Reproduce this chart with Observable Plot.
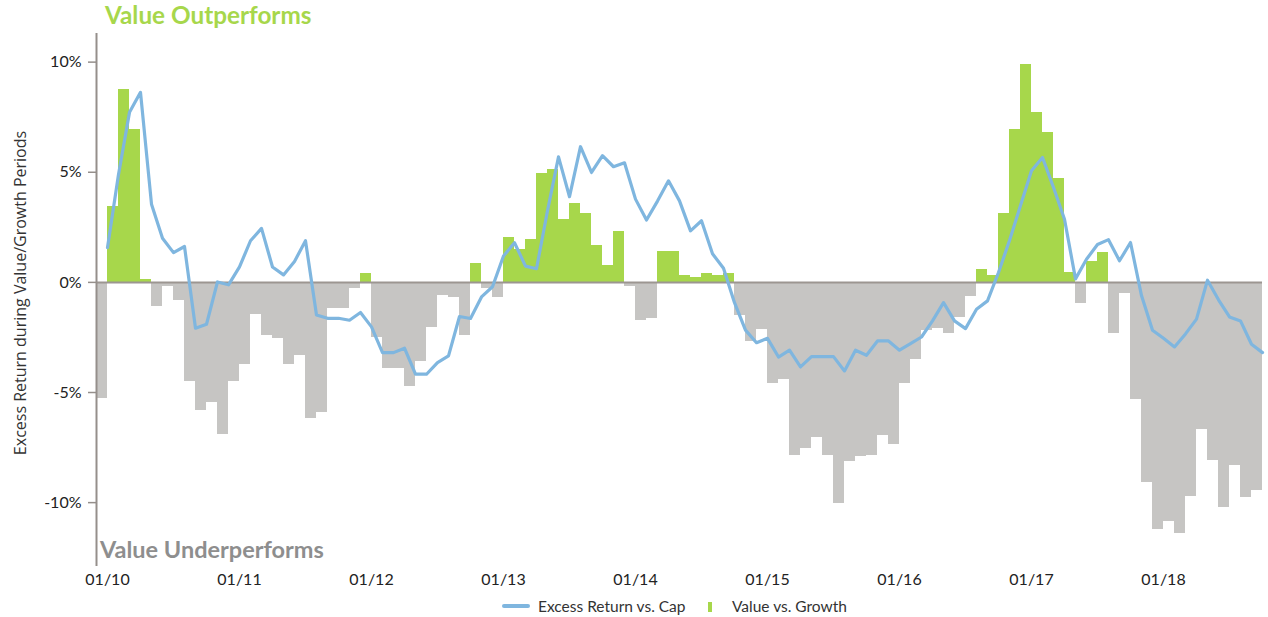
<!DOCTYPE html>
<html>
<head>
<meta charset="utf-8">
<script src="https://cdn.jsdelivr.net/npm/d3@7"></script>
<script src="https://cdn.jsdelivr.net/npm/@observablehq/plot@0.6"></script>
<style>
  html, body { margin: 0; padding: 0; background: #fff; }
  #wrap { position: relative; width: 1268px; height: 617px; font-family: Lato, "Open Sans", sans-serif; overflow: hidden; }
  #wrap svg { position: absolute; left: 0; top: 0; }
  .note { position: absolute; font-weight: 700; font-size: 23.5px; line-height: 24px; white-space: nowrap; }
  #ylab { position: absolute; left: 20px; top: 293px; transform: translate(-50%, -50%) rotate(-90deg); font-family: "Open Sans", sans-serif; font-size: 16px; color: #333; white-space: nowrap; }
  .lg { position: absolute; white-space: nowrap; font-size: 15.5px; line-height: 16px; color: #333; }
</style>
</head>
<body>
<div id="wrap">
  <div class="note" style="left:105px; top:3px; color:#a7d74b; font-size:24.3px;">Value Outperforms</div>
  <div class="note" style="left:100px; top:537px; color:#8e8e8e;">Value Underperforms</div>
  <div id="ylab">Excess Return during Value/Growth Periods</div>
  <div style="position:absolute; left:502px; top:604px; width:28px; height:4px; background:#7fb6df; border-radius:2px;"></div>
  <div class="lg" style="left:538px; top:598px;">Excess Return vs. Cap</div>
  <div style="position:absolute; left:708px; top:602px; width:4px; height:10px; background:#a7d74b;"></div>
  <div class="lg" style="left:732px; top:598px;">Value vs. Growth</div>
</div>
<script>
// Monthly periods, Dec 2009 (index 0) through Sep 2018 (index 105)
const seriesNames = ["Excess Return vs. Cap", "Value vs. Growth"];

// Value vs. Growth monthly return (%)
const valueVsGrowth = [
  -5.28, 3.43, 8.78, 6.96, 0.15, -1.1, -0.2, -0.81, -4.48, -5.81,
  -5.46, -6.9, -4.48, -3.72, -1.48, -2.39, -2.55, -3.72, -3.3, -6.19,
  -5.92, -1.2, -1.2, -0.3, 0.41, -2.5, -3.9, -3.9, -4.75, -3.6,
  -2.05, -0.6, -0.68, -2.4, 0.87, -0.3, -0.67, 2.05, 1.5, 1.95,
  4.95, 5.14, 2.86, 3.6, 3.14, 1.68, 0.77, 2.32, -0.2, -1.75,
  -1.65, 1.4, 1.4, 0.3, 0.23, 0.4, 0.33, 0.4, -1.5, -2.7,
  -2.15, -4.6, -4.4, -7.85, -7.55, -7.05, -7.85, -10.05, -8.15, -7.9,
  -7.85, -6.95, -7.38, -4.6, -3.5, -2.2, -2.1, -2.3, -1.6, -0.65,
  0.6, 0.33, 3.15, 6.95, 9.9, 7.7, 6.8, 4.7, 0.43, -0.95,
  0.97, 1.34, -2.3, -0.5, -5.3, -9.1, -11.2, -10.85, -11.4, -9.7,
  -6.7, -8.1, -10.2, -8.3, -9.75, -9.45
];

// Excess Return vs. Cap (%), measured at each month end
const excessReturn = [
  1.58, 4.9, 7.72, 8.63, 3.55, 2.0, 1.35, 1.63, -2.08, -1.9,
  0.02, -0.11, 0.7, 1.89, 2.45, 0.7, 0.34, 0.95, 1.89, -1.48,
  -1.63, -1.63, -1.72, -1.37, -2.02, -3.19, -3.19, -2.99, -4.17, -4.17,
  -3.64, -3.34, -1.55, -1.64, -0.66, -0.2, 1.2, 1.8, 0.74, 0.62,
  3.25, 5.7, 3.89, 6.16, 4.99, 5.75, 5.25, 5.43, 3.78, 2.83,
  3.69, 4.61, 3.7, 2.34, 2.8, 1.3, 0.64, -0.92, -2.17, -2.74,
  -2.54, -3.39, -3.08, -3.84, -3.37, -3.37, -3.37, -4.02, -3.08, -3.31,
  -2.66, -2.66, -3.08, -2.78, -2.48, -1.75, -0.92, -1.75, -2.1, -1.22,
  -0.84, 0.45, 1.9, 3.49, 5.07, 5.67, 4.31, 2.87, 0.16, 1.05,
  1.72, 1.94, 0.98, 1.81, -0.6, -2.17, -2.54, -2.93, -2.34, -1.67,
  0.1, -0.79, -1.57, -1.75, -2.81, -3.19
];

const tickLabels = ["01/10", "01/11", "01/12", "01/13", "01/14", "01/15", "01/16", "01/17", "01/18"];
const tickMonthIndex = [1, 13, 25, 37, 49, 61, 73, 85, 97];
const yTicks = [-10, -5, 0, 5, 10];

const GREEN = "#a7d74b";
const GRAY = "#c6c5c3";
const BLUE = "#7fb6df";
const AXIS = "#958f8b";
const yDomain = [-12.9, 11.3];

const bars = valueVsGrowth.map((v, i) => ({m: i, v}));
const line = excessReturn.map((v, i) => ({m: i + 1, v}));

const chart = Plot.plot({
  width: 1268,
  height: 617,
  marginLeft: 96,
  marginRight: 6,
  marginTop: 33,
  marginBottom: 51,
  style: {fontFamily: "Lato, 'Open Sans', sans-serif", background: "transparent"},
  x: {domain: [0, valueVsGrowth.length], axis: null},
  y: {domain: yDomain, axis: null},
  marks: [
    Plot.rectY(bars, {filter: d => d.v >= 0, x1: d => d.m, x2: d => d.m + 1, y1: 0, y2: "v", fill: GREEN, shapeRendering: "crispEdges"}),
    Plot.rectY(bars, {filter: d => d.v < 0, x1: d => d.m, x2: d => d.m + 1, y1: 0, y2: "v", fill: GRAY, shapeRendering: "crispEdges"}),
    Plot.ruleY([0], {stroke: "#9c9691", strokeWidth: 2}),
    Plot.line(line, {x: "m", y: "v", stroke: BLUE, strokeWidth: 3.2, strokeLinejoin: "round", strokeLinecap: "round"}),
    Plot.ruleX([0], {y1: yDomain[0], y2: yDomain[1], stroke: AXIS, strokeWidth: 2}),
    Plot.axisY({ticks: yTicks, tickFormat: d => d + "%", tickSize: 8, tickPadding: 7, fontSize: 16, stroke: AXIS, strokeWidth: 1.5, fill: "#222", label: null}),
    Plot.axisX({ticks: tickMonthIndex, tickFormat: d => tickLabels[tickMonthIndex.indexOf(d)], tickSize: 0, tickPadding: 7, fontSize: 16, fill: "#222", label: null})
  ]
});
document.getElementById("wrap").prepend(chart);
</script>
</body>
</html>
